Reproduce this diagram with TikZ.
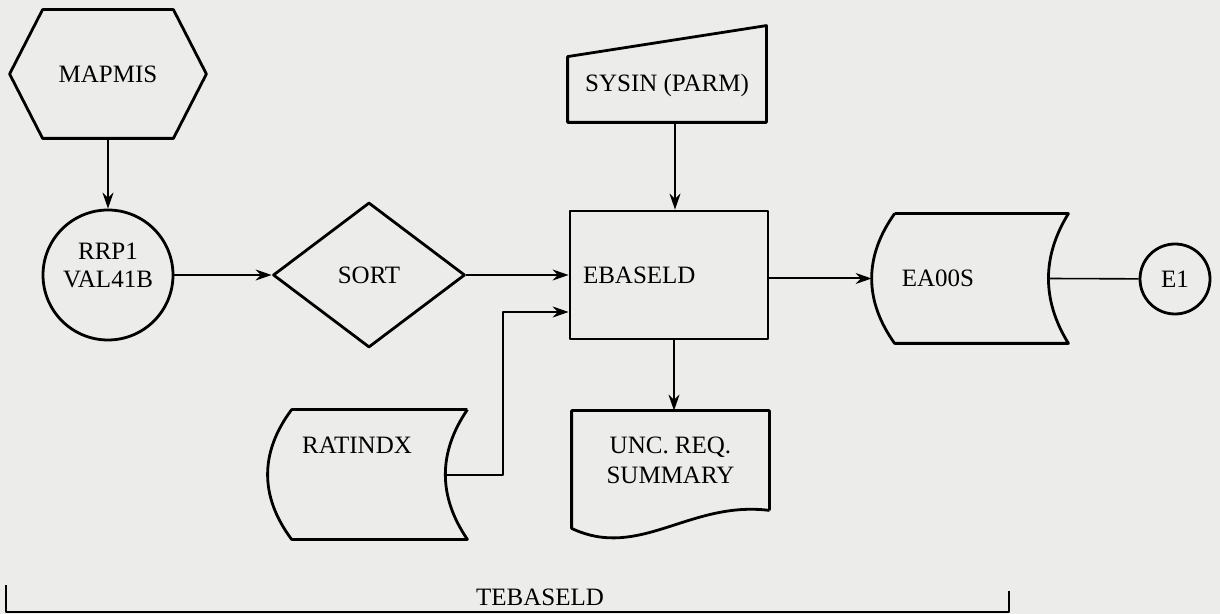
\documentclass[tikz,border=0pt]{standalone}
\usepackage{fontspec}
\setmainfont{Liberation Serif}
\usetikzlibrary{shapes.geometric,arrows.meta}
\definecolor{paper}{RGB}{236,236,234}
\begin{document}
\begin{tikzpicture}[x=0.5pt, y=-0.5pt, line join=round, >={Stealth[length=8pt,width=5.5pt]},
		font=\fontsize{12.5}{14}\selectfont]
	\tikzset{
		outline/.style={line width=1.4pt},
		flow/.style={->, line width=1pt},
		frame/.style={rectangle, inner sep=0pt}
	}
	\useasboundingbox[fill=paper] (0,0) rectangle (1220,614);
	% hexagon
	\node[frame, minimum width=98pt, minimum height=64pt] (mapmis) at (108,74) {MAPMIS};
	\draw[outline] (mapmis.west) -- ([xshift=16.5pt]mapmis.north west) -- ([xshift=-16.5pt]mapmis.north east)
		-- (mapmis.east) -- ([xshift=-16.5pt]mapmis.south east) -- ([xshift=16.5pt]mapmis.south west) -- cycle;
	\node[circle, draw, outline, minimum size=65pt, inner sep=0pt,
		label={[align=center, yshift=5pt]center:RRP1\\VAL41B}] (rrp) at (108,275) {};
	\node[diamond, draw, outline, minimum width=96pt, minimum height=72.5pt, inner sep=0pt] (sort) at (369,275) {SORT};
	% manual input
	\node[frame, minimum width=99pt, minimum height=32.5pt, label={[yshift=2pt]center:SYSIN (PARM)}] (sysin) at (667,89.5) {};
	\draw[outline] (sysin.south west) -- (sysin.north west) -- ([yshift=15.5pt]sysin.north east) -- (sysin.south east) -- cycle;
	\node[draw, outline, minimum height=64pt, text width=86pt, inner xsep=6.5pt, align=left] (ebaseld) at (669,275) {EBASELD};
	% document
	\node[frame, minimum width=98.5pt, minimum height=49.5pt, align=center] (unc) at (670.5,460.5) {UNC. REQ.\\[1pt]SUMMARY};
	\draw[outline] (unc.south east) -- (unc.north east) -- (unc.north west) -- ([yshift=-9pt]unc.south west)
		.. controls +(34pt,-16pt) and +(-40pt,5pt) .. (unc.south east);
	% stored data
	\node[frame, minimum width=87.5pt, minimum height=64.5pt,
		label={[xshift=-11.25pt, yshift=14.75pt]center:RATINDX}] (ratindx) at (379.5,474.5) {};
	\draw[outline] (ratindx.north east) -- (ratindx.north west) .. controls +(-16pt,-21.5pt) and +(-16pt,21.5pt) .. (ratindx.south west)
		-- (ratindx.south east) .. controls +(-14.7pt,21.5pt) and +(-14.7pt,-21.5pt) .. (ratindx.north east);
	\node[frame, minimum width=86.5pt, minimum height=64.5pt, label={[xshift=-21.75pt]center:EA00S}] (ea00s) at (981.5,278.5) {};
	\draw[outline] (ea00s.north west) -- (ea00s.north east) .. controls +(-13.3pt,-21.5pt) and +(-13.3pt,21.5pt) .. (ea00s.south east)
		-- (ea00s.south west) .. controls +(-15.3pt,21.5pt) and +(-15.3pt,-21.5pt) .. (ea00s.north west);
	\node[circle, draw, outline, minimum size=35pt, inner sep=0pt] (e1) at (1175,279) {E1};
	% connectors
	\draw[flow] (mapmis) -- (rrp);
	\draw[flow] (rrp) -- (sort);
	\draw[flow] (sort) -- (ebaseld);
	\draw[flow] ([xshift=3pt]ebaseld.north |- sysin.south) -- ([xshift=3pt]ebaseld.north);
	\draw[flow] ([xshift=2.5pt]ebaseld.south) -- ([xshift=2.5pt]ebaseld.south |- unc.north);
	\draw[flow] (ebaseld.east |- ea00s.west) -- ([xshift=-11.5pt]ea00s.west);
	\draw[line width=0.8pt] ([xshift=-10pt]ea00s.east) -- (e1);
	\draw[flow] ([xshift=-11pt]ratindx.east) -- ++(29pt,0) |- ([yshift=-18.5pt]ebaseld.west);
	% bracket
	\coordinate (bl) at (6,585);
	\coordinate (br) at (1009,591);
	\coordinate (bb) at (0,612);
	\draw[line width=1pt] (bl) -- (bl |- bb) -- (br |- bb) -- (br);
	\node (tebaseld) at (540,597) {TEBASELD};
\end{tikzpicture}
\end{document}
